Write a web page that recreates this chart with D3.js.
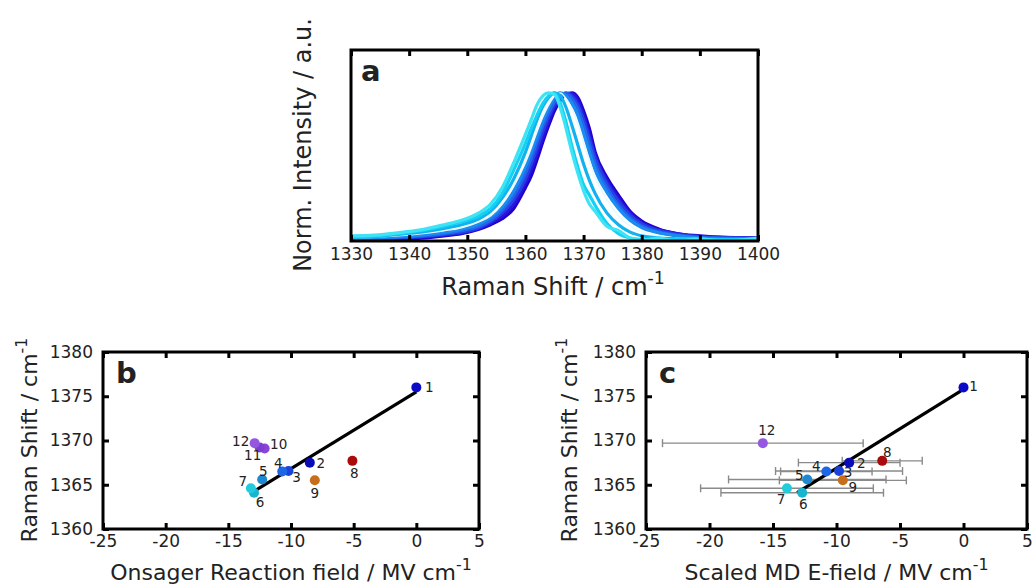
<!DOCTYPE html>
<html>
<head>
<meta charset="utf-8">
<script src="https://cdn.jsdelivr.net/npm/d3@7"></script>
<style>
  html, body { margin: 0; padding: 0; background: #fff; }
  svg { display: block; }
  text { font-family: "DejaVu Sans", Verdana, sans-serif; fill: #222; }
</style>
</head>
<body>
<svg id="fig" width="1032" height="585"></svg>
<script>
// ---------- Panel a: normalised Raman spectra ----------
const waveNumbers = [1330, 1334, 1338, 1342, 1346, 1349, 1352, 1354, 1356, 1358, 1360, 1361, 1362, 1363, 1364, 1365, 1366, 1367, 1368, 1369, 1370, 1371, 1372, 1374, 1376, 1378, 1380, 1383, 1386, 1390, 1394, 1400];

const spectrumA = [0.010, 0.010, 0.015, 0.020, 0.035, 0.050, 0.080, 0.110, 0.150, 0.220, 0.360, 0.440, 0.550, 0.670, 0.780, 0.880, 0.950, 0.990, 1.000, 0.970, 0.880, 0.760, 0.600, 0.430, 0.310, 0.200, 0.135, 0.080, 0.050, 0.035, 0.025, 0.020];
const spectrumB = [0.010, 0.012, 0.018, 0.025, 0.040, 0.055, 0.085, 0.120, 0.170, 0.250, 0.390, 0.480, 0.590, 0.700, 0.810, 0.900, 0.960, 0.995, 0.995, 0.950, 0.850, 0.720, 0.580, 0.410, 0.290, 0.190, 0.125, 0.075, 0.050, 0.030, 0.025, 0.020];
const spectrumC = [0.012, 0.015, 0.020, 0.030, 0.045, 0.060, 0.090, 0.130, 0.190, 0.280, 0.420, 0.520, 0.630, 0.740, 0.840, 0.920, 0.975, 1.000, 0.980, 0.920, 0.820, 0.690, 0.560, 0.390, 0.270, 0.175, 0.115, 0.070, 0.045, 0.030, 0.020, 0.020];
const spectrumD = [0.015, 0.018, 0.025, 0.035, 0.050, 0.070, 0.100, 0.140, 0.210, 0.310, 0.460, 0.560, 0.670, 0.780, 0.870, 0.940, 0.990, 0.995, 0.960, 0.890, 0.780, 0.650, 0.520, 0.360, 0.240, 0.155, 0.100, 0.060, 0.040, 0.025, 0.020, 0.015];
const spectrumE = [0.020, 0.022, 0.030, 0.040, 0.060, 0.080, 0.115, 0.160, 0.230, 0.340, 0.500, 0.600, 0.710, 0.810, 0.900, 0.970, 1.000, 0.980, 0.930, 0.850, 0.730, 0.600, 0.480, 0.330, 0.220, 0.140, 0.090, 0.055, 0.035, 0.020, 0.015, 0.015];
const spectrumF = [0.020, 0.025, 0.035, 0.050, 0.070, 0.090, 0.130, 0.170, 0.250, 0.370, 0.530, 0.630, 0.740, 0.840, 0.920, 0.980, 1.000, 0.960, 0.890, 0.790, 0.660, 0.540, 0.430, 0.280, 0.170, 0.100, 0.060, 0.035, 0.020, 0.015, 0.010, 0.010];
const spectrumG = [0.025, 0.030, 0.045, 0.060, 0.085, 0.110, 0.150, 0.200, 0.290, 0.420, 0.600, 0.710, 0.820, 0.910, 0.970, 1.000, 0.980, 0.900, 0.780, 0.650, 0.520, 0.410, 0.320, 0.190, 0.110, 0.060, 0.035, 0.020, 0.015, 0.010, 0.010, 0.010];
const spectrumH = [0.030, 0.035, 0.050, 0.070, 0.100, 0.130, 0.170, 0.220, 0.320, 0.480, 0.660, 0.760, 0.850, 0.930, 0.980, 1.000, 0.930, 0.800, 0.640, 0.500, 0.380, 0.310, 0.240, 0.120, 0.050, 0.020, 0.010, 0.005, 0.010, 0.000, 0.010, 0.005];
const spectrumI = [0.035, 0.040, 0.055, 0.075, 0.110, 0.140, 0.190, 0.250, 0.360, 0.530, 0.720, 0.820, 0.920, 0.980, 1.000, 0.990, 0.900, 0.760, 0.600, 0.460, 0.340, 0.250, 0.200, 0.100, 0.070, 0.020, 0.005, 0.020, 0.000, 0.015, 0.000, 0.020];

const spectra = [
  { values: spectrumA, color: "#2200cc", width: 3.2 },
  { values: spectrumB, color: "#2a14dc", width: 3.2 },
  { values: spectrumC, color: "#2440e6", width: 3.2 },
  { values: spectrumD, color: "#2466ee", width: 3.2 },
  { values: spectrumE, color: "#1a8cf0", width: 3.2 },
  { values: spectrumF, color: "#e6fbff", width: 1.6 },
  { values: spectrumG, color: "#12b2f0", width: 3.2 },
  { values: spectrumH, color: "#14d0f2", width: 3.2 },
  { values: spectrumI, color: "#3ee4f4", width: 3.2 }
];
const spectrumTicks = [1330, 1340, 1350, 1360, 1370, 1380, 1390, 1400];

// ---------- Panels b and c: peak position vs electric field ----------
const sampleIds    = [1, 2, 3, 4, 5, 6, 7, 8, 9, 10, 11, 12];
const ramanShift   = [1376.0, 1367.5, 1366.55, 1366.5, 1365.6, 1364.1, 1364.6, 1367.7, 1365.5, 1369.1, 1369.2, 1369.7];
const onsagerField = [0.0, -8.5, -10.2, -10.7, -12.3, -12.95, -13.2, -5.1, -8.1, -12.1, -12.5, -12.9];
const sampleColors = ["#0a0ac8", "#0a0ab8", "#1a44d8", "#1e66e8", "#1e88d0", "#18b4d0", "#22ccdc", "#aa0a0a", "#c66e1a", "#8a44d8", "#7e3cd0", "#9458e0"];

const mdIds        = [1, 2, 3, 4, 5, 6, 7, 8, 9, 12];
const mdField      = [0.0, -9.0, -9.8, -10.8, -12.3, -12.7, -13.9, -6.4, -9.5, -15.8];
const mdFieldError = [0.0, 4.0, 5.0, 3.6, 6.2, 6.4, 6.8, 3.15, 5.0, 7.9];

const onsagerFitX = [-12.8, 0.0];
const onsagerFitY = [1364.4, 1375.5];
const mdFitX = [-13.1, -0.2];
const mdFitY = [1364.1, 1375.6];

const fieldTicks = [-25, -20, -15, -10, -5, 0, 5];
const shiftTicks = [1360, 1365, 1370, 1375, 1380];

// label offsets (px) around each marker
const labelOffsetB = {1:[13,0], 2:[11,1], 3:[8,6], 4:[-4,-8], 5:[1,-8], 6:[6,9], 7:[-8,-7], 8:[2,12], 9:[0,13], 10:[14,-4], 11:[-7,8], 12:[-14,-2]};
const labelOffsetC = {1:[10,-1], 2:[12,1], 3:[9,1], 4:[-10,-5], 5:[-8,-4], 6:[1,11], 7:[-6,11], 8:[5,-9], 9:[10,7], 12:[4,-13]};

const svg = d3.select("#fig");
const plainInt = d => String(d);

function styleAxis(a) {
  a.select(".domain").remove();
  a.selectAll(".tick line").attr("stroke", "#000").attr("stroke-width", 3);
  a.selectAll(".tick text").attr("font-size", 17).attr("fill", "#1a1a1a")
    .attr("font-family", "'DejaVu Sans', Verdana, sans-serif");
}

function drawFrame(g, x, y, opts) {
  const [x0, x1] = x.range();
  const [y0, y1] = y.range(); // y0 bottom, y1 top
  styleAxis(g.append("g").attr("transform", `translate(0,${y0})`)
    .call(d3.axisBottom(x).tickValues(opts.xTicks).tickFormat(plainInt).tickSizeInner(-6).tickSizeOuter(0).tickPadding(opts.xPad)));
  styleAxis(g.append("g").attr("transform", `translate(0,${y1})`)
    .call(d3.axisTop(x).tickValues(opts.xTicks).tickFormat("").tickSizeInner(-6).tickSizeOuter(0)));
  if (opts.yTicks) {
    styleAxis(g.append("g").attr("transform", `translate(${x0},0)`)
      .call(d3.axisLeft(y).tickValues(opts.yTicks).tickFormat(plainInt).tickSizeInner(-6).tickSizeOuter(0).tickPadding(10)));
    styleAxis(g.append("g").attr("transform", `translate(${x1},0)`)
      .call(d3.axisRight(y).tickValues(opts.yTicks).tickFormat("").tickSizeInner(-6).tickSizeOuter(0)));
  }
  g.append("rect")
    .attr("x", x0).attr("y", y1)
    .attr("width", x1 - x0).attr("height", y0 - y1)
    .attr("fill", "none").attr("stroke", "#000").attr("stroke-width", 3);
}

function axisTitle(g, text, sup, x, y, size, rotate) {
  const t = g.append("text")
    .attr("text-anchor", "middle")
    .attr("font-size", size)
    .attr("transform", rotate ? `translate(${x},${y}) rotate(-90)` : `translate(${x},${y})`);
  t.append("tspan").text(text);
  if (sup) t.append("tspan").attr("dy", -size * 0.45).attr("font-size", size * 0.72).text(sup);
}

function panelLetter(g, letter, x, y) {
  g.append("text").attr("x", x).attr("y", y)
    .attr("font-family", "'Liberation Sans', Arial, sans-serif")
    .attr("font-weight", "bold").attr("font-size", 29).attr("fill", "#000")
    .text(letter);
}

// ---------- draw panel a ----------
{
  const g = svg.append("g");
  const x = d3.scaleLinear().domain([1330, 1400]).range([351, 758]);
  const y = d3.scaleLinear().domain([0, 1.29]).range([241, 50]);

  g.append("clipPath").attr("id", "clipA")
    .append("rect").attr("x", 351).attr("y", 50).attr("width", 407).attr("height", 191);

  const line = d3.line()
    .x((d, i) => x(waveNumbers[i]))
    .y(d => y(d))
    .curve(d3.curveMonotoneX);

  g.append("g").attr("clip-path", "url(#clipA)")
    .selectAll("path").data(spectra).join("path")
    .attr("d", s => line(s.values))
    .attr("fill", "none")
    .attr("stroke", s => s.color)
    .attr("stroke-width", s => s.width)
    .attr("stroke-linejoin", "round");

  drawFrame(g, x, y, { xTicks: spectrumTicks, xPad: 7 });
  panelLetter(g, "a", 361, 81);
  axisTitle(g, "Raman Shift / cm", "-1", 553, 295, 24, false);
  axisTitle(g, "Norm. Intensity / a.u.", null, 311, 145, 24, true);
}

// ---------- scatter panels b and c ----------
function scatterPanel(opts) {
  const g = svg.append("g");
  const x = d3.scaleLinear().domain([-25, 5]).range(opts.xRange);
  const y = d3.scaleLinear().domain([1360, 1380]).range([529, 352]);

  // horizontal error bars on the field estimate
  if (opts.err) {
    const eb = g.append("g").attr("stroke", "#8a8a8a").attr("stroke-width", 1.4);
    opts.ids.forEach((id, i) => {
      const e = opts.err[i];
      if (!e) return;
      const yy = y(opts.yv[i]);
      const xl = x(opts.xv[i] - e), xr = x(opts.xv[i] + e);
      eb.append("line").attr("x1", xl).attr("x2", xr).attr("y1", yy).attr("y2", yy);
      eb.append("line").attr("x1", xl).attr("x2", xl).attr("y1", yy - 4).attr("y2", yy + 4);
      eb.append("line").attr("x1", xr).attr("x2", xr).attr("y1", yy - 4).attr("y2", yy + 4);
    });
  }

  // linear fit
  g.append("path")
    .attr("d", d3.line().x(d => x(d[0])).y(d => y(d[1]))(d3.zip(opts.fitX, opts.fitY)))
    .attr("stroke", "#000").attr("stroke-width", 3.2).attr("fill", "none");

  // markers
  const pts = opts.ids.map((id, i) => ({ id, fx: opts.xv[i], rs: opts.yv[i], color: sampleColors[sampleIds.indexOf(id)] }));
  g.append("g").selectAll("circle").data(pts).join("circle")
    .attr("cx", d => x(d.fx)).attr("cy", d => y(d.rs)).attr("r", 5)
    .attr("fill", d => d.color);

  // sample numbers
  g.append("g").selectAll("text").data(pts).join("text")
    .attr("x", d => x(d.fx) + opts.offsets[d.id][0])
    .attr("y", d => y(d.rs) + opts.offsets[d.id][1])
    .attr("text-anchor", "middle").attr("dy", "0.36em")
    .attr("font-size", 13.5).attr("fill", "#333")
    .text(d => d.id);

  drawFrame(g, x, y, { xTicks: fieldTicks, yTicks: shiftTicks, xPad: 6 });
  panelLetter(g, opts.letter, opts.xRange[0] + 13, 383);
  axisTitle(g, opts.xTitle, "-1", (opts.xRange[0] + opts.xRange[1]) / 2, 580, 22, false);
  axisTitle(g, "Raman Shift / cm", "-1", opts.yTitleX, 440, 22, true);
}

scatterPanel({
  letter: "b",
  xRange: [103, 479],
  ids: sampleIds, xv: onsagerField, yv: ramanShift,
  fitX: onsagerFitX, fitY: onsagerFitY,
  offsets: labelOffsetB,
  xTitle: "Onsager Reaction field / MV cm",
  yTitleX: 37
});

scatterPanel({
  letter: "c",
  xRange: [646, 1027],
  ids: mdIds, xv: mdField,
  yv: mdIds.map(id => ramanShift[sampleIds.indexOf(id)]),
  err: mdFieldError,
  fitX: mdFitX, fitY: mdFitY,
  offsets: labelOffsetC,
  xTitle: "Scaled MD E-field / MV cm",
  yTitleX: 577
});
</script>
</body>
</html>
